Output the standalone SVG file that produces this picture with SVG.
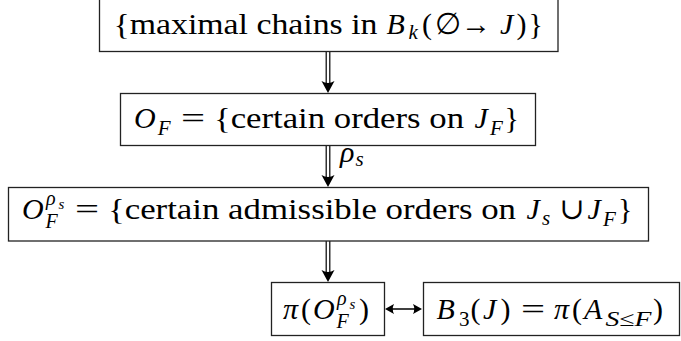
<svg xmlns="http://www.w3.org/2000/svg" width="681" height="341" viewBox="0 0 681 341" font-family="'Liberation Serif', 'DejaVu Serif', serif" font-size="30">
<style>
.box{fill:#fff;stroke:#222;stroke-width:1.3}
.i{font-style:italic}
.s{font-size:21px}
.sc{font-size:20px}
.ss{font-size:15px}
.dl{stroke:#000;stroke-width:1.2;fill:none}
.hl{stroke:#000;stroke-width:1.5;fill:none}
.hd{fill:#000}
</style>
<rect width="681" height="341" fill="#fff"/>
<g id="connectors">
<g id="a1">
<line class="dl" x1="326.2" y1="51.5" x2="326.2" y2="85"/>
<line class="dl" x1="329.8" y1="51.5" x2="329.8" y2="85"/>
<path class="hd" d="M321.5,81 L328,93 L334.5,81 Q328,85 321.5,81Z"/>
</g>
<g id="a2">
<line class="dl" x1="326.2" y1="145.5" x2="326.2" y2="179"/>
<line class="dl" x1="329.8" y1="145.5" x2="329.8" y2="179"/>
<path class="hd" d="M321.5,175 L328,187 L334.5,175 Q328,179 321.5,175Z"/>
<text class="i" x="340" y="162">ρ</text>
<text class="i s" x="355.5" y="166">s</text>
</g>
<g id="a3">
<line class="dl" x1="326.2" y1="241" x2="326.2" y2="274"/>
<line class="dl" x1="329.8" y1="241" x2="329.8" y2="274"/>
<path class="hd" d="M321.5,270 L328,282 L334.5,270 Q328,274 321.5,270Z"/>
</g>
<g id="a4">
<line class="hl" x1="389" y1="309" x2="418" y2="309"/>
<path class="hd" d="M385,309 L394,304 Q391.5,309 394,314Z"/>
<path class="hd" d="M422,309 L413,304 Q415.5,309 413,314Z"/>
</g>
</g>
<g id="n1">
<rect class="box" x="99.5" y="-1.5" width="458.5" height="53"/>
<text x="113.5" y="33.5" textLength="264" lengthAdjust="spacingAndGlyphs">{maximal chains in</text>
<text class="i" x="386.5" y="33.5">B</text>
<text class="i s" x="408.5" y="39">k</text>
<text x="422" y="33.5">(</text>
<text x="434.5" y="33.5">∅</text>
<text x="461" y="33.5" textLength="30" lengthAdjust="spacingAndGlyphs">→</text>
<text class="i" x="500" y="33.5">J</text>
<text x="516.5" y="33.5">)</text>
<text x="528.5" y="33.5">}</text>
</g>
<g id="n2">
<rect class="box" x="120.5" y="93.5" width="415" height="52"/>
<text class="i" x="134" y="128">O</text>
<text class="i s" x="157.7" y="135">F</text>
<text x="181" y="128" textLength="24.1" lengthAdjust="spacingAndGlyphs">=</text>
<text x="214" y="128" textLength="250" lengthAdjust="spacingAndGlyphs">{certain orders on</text>
<text class="i" x="474.5" y="128">J</text>
<text class="i s" x="490" y="135">F</text>
<text x="504.5" y="128">}</text>
</g>
<g id="n3">
<rect class="box" x="8.5" y="187.5" width="640" height="53.5"/>
<text class="i" x="22" y="219">O</text>
<text class="i sc" x="46" y="205">ρ</text>
<text class="i ss" x="58.5" y="209">s</text>
<text class="i sc" x="45.5" y="228">F</text>
<text x="75" y="219" textLength="24.1" lengthAdjust="spacingAndGlyphs">=</text>
<text x="108" y="219" textLength="408" lengthAdjust="spacingAndGlyphs">{certain admissible orders on</text>
<text class="i" x="526.5" y="219">J</text>
<text class="i s" x="542" y="225">s</text>
<text x="559.5" y="219">∪</text>
<text class="i" x="587.5" y="219">J</text>
<text class="i s" x="603" y="226">F</text>
<text x="618" y="219">}</text>
</g>
<g id="n4">
<rect class="box" x="271.5" y="282.5" width="113" height="53"/>
<text class="i" x="283" y="318.5">π</text>
<text x="301" y="318.5">(</text>
<text class="i" x="313" y="318.5">O</text>
<text class="i sc" x="337" y="304.5">ρ</text>
<text class="i ss" x="349.5" y="308.5">s</text>
<text class="i sc" x="336.5" y="327.5">F</text>
<text x="359" y="318.5">)</text>
</g>
<g id="n5">
<rect class="box" x="423.5" y="282.5" width="256" height="53"/>
<text class="i" x="436.5" y="318.5">B</text>
<text class="s" x="459" y="325.5">3</text>
<text x="470.5" y="318.5">(</text>
<text class="i" x="483" y="318.5">J</text>
<text x="500.5" y="318.5">)</text>
<text x="521" y="318.5" textLength="24.1" lengthAdjust="spacingAndGlyphs">=</text>
<text class="i" x="554" y="318.5">π</text>
<text x="572" y="318.5">(</text>
<text class="i" x="584" y="318.5">A</text>
<text class="s" x="605.5" y="326" textLength="46" lengthAdjust="spacingAndGlyphs"><tspan class="i">S</tspan>≤<tspan class="i">F</tspan></text>
<text x="653" y="318.5">)</text>
</g>
</svg>
